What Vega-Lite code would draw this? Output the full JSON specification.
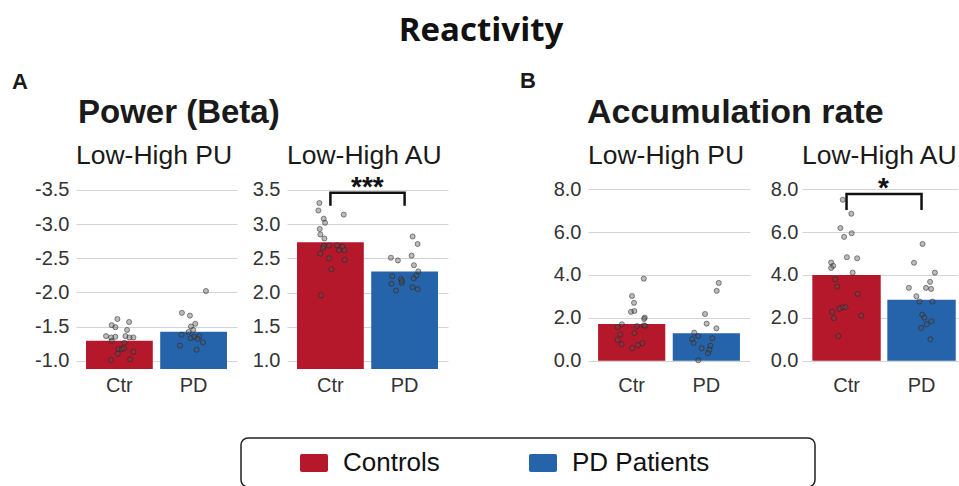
{
  "$schema": "https://vega.github.io/schema/vega-lite/v6.json",
  "padding": {"left": 12, "top": 14, "right": 0, "bottom": 0},
  "background": "white",
  "title": {"text": "Reactivity", "font": "Open Sans", "fontSize": 33, "fontWeight": "bold", "color": "#111", "anchor": "middle", "frame": "bounds", "offset": 22, "dx": -4},
  "datasets": {
    "bars": [
      {"p": "A_PU", "g": "Ctr", "v": -1.29}, {"p": "A_PU", "g": "PD", "v": -1.425},
      {"p": "A_AU", "g": "Ctr", "v": 2.735}, {"p": "A_AU", "g": "PD", "v": 2.31},
      {"p": "B_PU", "g": "Ctr", "v": 1.71}, {"p": "B_PU", "g": "PD", "v": 1.28},
      {"p": "B_AU", "g": "Ctr", "v": 4.0}, {"p": "B_AU", "g": "PD", "v": 2.84}
    ],
    "brackets": [
      {"p": "A_AU", "g": "Ctr", "v": 3.27, "o": 1}, {"p": "A_AU", "g": "Ctr", "v": 3.46, "o": 2},
      {"p": "A_AU", "g": "PD", "v": 3.46, "o": 3}, {"p": "A_AU", "g": "PD", "v": 3.27, "o": 4},
      {"p": "B_AU", "g": "Ctr", "v": 7.03, "o": 1}, {"p": "B_AU", "g": "Ctr", "v": 7.78, "o": 2},
      {"p": "B_AU", "g": "PD", "v": 7.78, "o": 3}, {"p": "B_AU", "g": "PD", "v": 7.03, "o": 4}
    ],
    "stars": [
      {"p": "A_AU", "g": "Ctr", "v": 3.46, "t": "***"},
      {"p": "B_AU", "g": "Ctr", "v": 7.78, "t": "*"}
    ],
    "pts": [
      {"p": "A_PU", "g": "Ctr", "v": -1.61, "j": -0.06}, {"p": "A_PU", "g": "Ctr", "v": -1.567, "j": 0.29},
      {"p": "A_PU", "g": "Ctr", "v": -1.52, "j": -0.23}, {"p": "A_PU", "g": "Ctr", "v": -1.49, "j": -0.12},
      {"p": "A_PU", "g": "Ctr", "v": -1.45, "j": 0.23}, {"p": "A_PU", "g": "Ctr", "v": -1.36, "j": -0.4},
      {"p": "A_PU", "g": "Ctr", "v": -1.34, "j": -0.25}, {"p": "A_PU", "g": "Ctr", "v": -1.35, "j": -0.12},
      {"p": "A_PU", "g": "Ctr", "v": -1.36, "j": 0.18}, {"p": "A_PU", "g": "Ctr", "v": -1.34, "j": 0.3},
      {"p": "A_PU", "g": "Ctr", "v": -1.34, "j": 0.42}, {"p": "A_PU", "g": "Ctr", "v": -1.29, "j": -0.23},
      {"p": "A_PU", "g": "Ctr", "v": -1.26, "j": 0.15}, {"p": "A_PU", "g": "Ctr", "v": -1.17, "j": -0.03},
      {"p": "A_PU", "g": "Ctr", "v": -1.17, "j": 0.07}, {"p": "A_PU", "g": "Ctr", "v": -1.18, "j": 0.14},
      {"p": "A_PU", "g": "Ctr", "v": -1.1, "j": -0.05}, {"p": "A_PU", "g": "Ctr", "v": -1.13, "j": 0.42},
      {"p": "A_PU", "g": "Ctr", "v": -1.01, "j": -0.25}, {"p": "A_PU", "g": "Ctr", "v": -1.02, "j": 0.32},
      {"p": "A_PU", "g": "PD", "v": -2.02, "j": 0.37}, {"p": "A_PU", "g": "PD", "v": -1.7, "j": -0.35},
      {"p": "A_PU", "g": "PD", "v": -1.66, "j": -0.11}, {"p": "A_PU", "g": "PD", "v": -1.54, "j": 0.05},
      {"p": "A_PU", "g": "PD", "v": -1.5, "j": -0.08}, {"p": "A_PU", "g": "PD", "v": -1.45, "j": -0.01},
      {"p": "A_PU", "g": "PD", "v": -1.42, "j": -0.15}, {"p": "A_PU", "g": "PD", "v": -1.38, "j": -0.36},
      {"p": "A_PU", "g": "PD", "v": -1.36, "j": 0.17}, {"p": "A_PU", "g": "PD", "v": -1.35, "j": 0.01},
      {"p": "A_PU", "g": "PD", "v": -1.33, "j": -0.09}, {"p": "A_PU", "g": "PD", "v": -1.32, "j": 0.12},
      {"p": "A_PU", "g": "PD", "v": -1.27, "j": 0.28}, {"p": "A_PU", "g": "PD", "v": -1.22, "j": -0.41},
      {"p": "A_PU", "g": "PD", "v": -1.16, "j": 0.09},
      {"p": "A_AU", "g": "Ctr", "v": 3.31, "j": -0.33}, {"p": "A_AU", "g": "Ctr", "v": 3.2, "j": -0.36},
      {"p": "A_AU", "g": "Ctr", "v": 3.14, "j": 0.4}, {"p": "A_AU", "g": "Ctr", "v": 3.08, "j": -0.2},
      {"p": "A_AU", "g": "Ctr", "v": 3.02, "j": -0.16}, {"p": "A_AU", "g": "Ctr", "v": 2.93, "j": -0.32},
      {"p": "A_AU", "g": "Ctr", "v": 2.85, "j": -0.3}, {"p": "A_AU", "g": "Ctr", "v": 2.79, "j": -0.18},
      {"p": "A_AU", "g": "Ctr", "v": 2.68, "j": -0.2}, {"p": "A_AU", "g": "Ctr", "v": 2.65, "j": -0.22},
      {"p": "A_AU", "g": "Ctr", "v": 2.69, "j": -0.04}, {"p": "A_AU", "g": "Ctr", "v": 2.69, "j": 0.2},
      {"p": "A_AU", "g": "Ctr", "v": 2.67, "j": 0.36}, {"p": "A_AU", "g": "Ctr", "v": 2.62, "j": 0.26},
      {"p": "A_AU", "g": "Ctr", "v": 2.62, "j": 0.42}, {"p": "A_AU", "g": "Ctr", "v": 2.57, "j": -0.3},
      {"p": "A_AU", "g": "Ctr", "v": 2.5, "j": -0.04}, {"p": "A_AU", "g": "Ctr", "v": 2.48, "j": 0.43},
      {"p": "A_AU", "g": "Ctr", "v": 2.34, "j": 0.03}, {"p": "A_AU", "g": "Ctr", "v": 1.96, "j": -0.28},
      {"p": "A_AU", "g": "PD", "v": 2.82, "j": 0.24}, {"p": "A_AU", "g": "PD", "v": 2.71, "j": 0.39},
      {"p": "A_AU", "g": "PD", "v": 2.51, "j": -0.41}, {"p": "A_AU", "g": "PD", "v": 2.47, "j": -0.2},
      {"p": "A_AU", "g": "PD", "v": 2.54, "j": 0.21}, {"p": "A_AU", "g": "PD", "v": 2.4, "j": 0.28},
      {"p": "A_AU", "g": "PD", "v": 2.31, "j": 0.41}, {"p": "A_AU", "g": "PD", "v": 2.25, "j": 0.35},
      {"p": "A_AU", "g": "PD", "v": 2.24, "j": -0.37}, {"p": "A_AU", "g": "PD", "v": 2.2, "j": -0.11},
      {"p": "A_AU", "g": "PD", "v": 2.21, "j": 0.27}, {"p": "A_AU", "g": "PD", "v": 2.14, "j": -0.09},
      {"p": "A_AU", "g": "PD", "v": 2.13, "j": -0.39}, {"p": "A_AU", "g": "PD", "v": 2.17, "j": -0.08},
      {"p": "A_AU", "g": "PD", "v": 2.08, "j": 0.24}, {"p": "A_AU", "g": "PD", "v": 2.05, "j": 0.39},
      {"p": "A_AU", "g": "PD", "v": 2.03, "j": -0.26},
      {"p": "B_PU", "g": "Ctr", "v": 3.83, "j": 0.36}, {"p": "B_PU", "g": "Ctr", "v": 3.02, "j": 0.01},
      {"p": "B_PU", "g": "Ctr", "v": 2.7, "j": 0.07}, {"p": "B_PU", "g": "Ctr", "v": 2.28, "j": -0.02},
      {"p": "B_PU", "g": "Ctr", "v": 2.32, "j": 0.08}, {"p": "B_PU", "g": "Ctr", "v": 2.01, "j": 0.39},
      {"p": "B_PU", "g": "Ctr", "v": 1.95, "j": 0.37}, {"p": "B_PU", "g": "Ctr", "v": 1.7, "j": -0.29},
      {"p": "B_PU", "g": "Ctr", "v": 1.57, "j": -0.42}, {"p": "B_PU", "g": "Ctr", "v": 1.62, "j": 0.16},
      {"p": "B_PU", "g": "Ctr", "v": 1.65, "j": 0.36}, {"p": "B_PU", "g": "Ctr", "v": 1.63, "j": 0.4},
      {"p": "B_PU", "g": "Ctr", "v": 1.23, "j": -0.34}, {"p": "B_PU", "g": "Ctr", "v": 1.29, "j": 0.08},
      {"p": "B_PU", "g": "Ctr", "v": 0.97, "j": -0.42}, {"p": "B_PU", "g": "Ctr", "v": 0.77, "j": -0.3},
      {"p": "B_PU", "g": "Ctr", "v": 0.81, "j": 0.32}, {"p": "B_PU", "g": "Ctr", "v": 0.73, "j": 0.19},
      {"p": "B_PU", "g": "Ctr", "v": 0.58, "j": 0.01},
      {"p": "B_PU", "g": "PD", "v": 3.63, "j": 0.37}, {"p": "B_PU", "g": "PD", "v": 3.26, "j": 0.31},
      {"p": "B_PU", "g": "PD", "v": 2.18, "j": -0.04}, {"p": "B_PU", "g": "PD", "v": 1.73, "j": 0.01},
      {"p": "B_PU", "g": "PD", "v": 1.51, "j": 0.3}, {"p": "B_PU", "g": "PD", "v": 1.31, "j": -0.36},
      {"p": "B_PU", "g": "PD", "v": 1.15, "j": -0.24}, {"p": "B_PU", "g": "PD", "v": 1.01, "j": -0.42},
      {"p": "B_PU", "g": "PD", "v": 1.05, "j": 0.18}, {"p": "B_PU", "g": "PD", "v": 0.83, "j": -0.38},
      {"p": "B_PU", "g": "PD", "v": 0.7, "j": 0.12}, {"p": "B_PU", "g": "PD", "v": 0.51, "j": 0.09},
      {"p": "B_PU", "g": "PD", "v": 0.58, "j": -0.14}, {"p": "B_PU", "g": "PD", "v": 0.35, "j": 0.05},
      {"p": "B_PU", "g": "PD", "v": 0.02, "j": -0.24},
      {"p": "B_AU", "g": "Ctr", "v": 7.51, "j": -0.11}, {"p": "B_AU", "g": "Ctr", "v": 6.86, "j": 0.14},
      {"p": "B_AU", "g": "Ctr", "v": 6.19, "j": -0.18}, {"p": "B_AU", "g": "Ctr", "v": 5.95, "j": 0.15},
      {"p": "B_AU", "g": "Ctr", "v": 5.78, "j": -0.07}, {"p": "B_AU", "g": "Ctr", "v": 4.83, "j": 0.01},
      {"p": "B_AU", "g": "Ctr", "v": 4.78, "j": 0.31}, {"p": "B_AU", "g": "Ctr", "v": 4.58, "j": -0.45},
      {"p": "B_AU", "g": "Ctr", "v": 4.43, "j": -0.39}, {"p": "B_AU", "g": "Ctr", "v": 4.33, "j": -0.45},
      {"p": "B_AU", "g": "Ctr", "v": 4.11, "j": 0.18}, {"p": "B_AU", "g": "Ctr", "v": 3.8, "j": -0.33},
      {"p": "B_AU", "g": "Ctr", "v": 3.46, "j": -0.27}, {"p": "B_AU", "g": "Ctr", "v": 3.12, "j": 0.33},
      {"p": "B_AU", "g": "Ctr", "v": 2.49, "j": -0.12}, {"p": "B_AU", "g": "Ctr", "v": 2.5, "j": -0.03},
      {"p": "B_AU", "g": "Ctr", "v": 2.43, "j": -0.21}, {"p": "B_AU", "g": "Ctr", "v": 2.28, "j": -0.42},
      {"p": "B_AU", "g": "Ctr", "v": 2.1, "j": 0.43}, {"p": "B_AU", "g": "Ctr", "v": 1.99, "j": -0.37},
      {"p": "B_AU", "g": "Ctr", "v": 1.15, "j": -0.24},
      {"p": "B_AU", "g": "PD", "v": 5.45, "j": 0.03}, {"p": "B_AU", "g": "PD", "v": 4.57, "j": -0.22},
      {"p": "B_AU", "g": "PD", "v": 4.11, "j": 0.39}, {"p": "B_AU", "g": "PD", "v": 3.68, "j": 0.25},
      {"p": "B_AU", "g": "PD", "v": 3.4, "j": -0.37}, {"p": "B_AU", "g": "PD", "v": 3.4, "j": 0.13},
      {"p": "B_AU", "g": "PD", "v": 3.35, "j": 0.28}, {"p": "B_AU", "g": "PD", "v": 3.01, "j": -0.15},
      {"p": "B_AU", "g": "PD", "v": 2.76, "j": -0.06}, {"p": "B_AU", "g": "PD", "v": 2.76, "j": 0.32},
      {"p": "B_AU", "g": "PD", "v": 2.15, "j": 0.02}, {"p": "B_AU", "g": "PD", "v": 2.01, "j": 0.08},
      {"p": "B_AU", "g": "PD", "v": 1.84, "j": 0.29}, {"p": "B_AU", "g": "PD", "v": 1.7, "j": 0.15},
      {"p": "B_AU", "g": "PD", "v": 1.53, "j": -0.01}, {"p": "B_AU", "g": "PD", "v": 1.0, "j": 0.26}
    ]
  },
  "spacing": 72,
  "hconcat": [
    {
      "title": {"text": "A", "anchor": "start", "dx": -64, "fontSize": 22, "fontWeight": "bold", "offset": 3},
      "hconcat": [
        {
          "title": {"text": "Power (Beta)", "anchor": "start", "dx": 2, "fontSize": 33, "fontWeight": "bold", "offset": 13},
          "spacing": 15,
          "hconcat": [
            {
              "width": 161, "height": 199,
              "title": {"text": "Low-High PU"},
              "resolve": {"scale": {"xOffset": "independent"}},
              "encoding": {
                "x": {"field": "g", "type": "nominal", "sort": ["Ctr", "PD"], "title": null, "scale": {"paddingInner": 0.1, "paddingOuter": 0.135}},
                "y": {"field": "v", "type": "quantitative", "title": null, "scale": {"domain": [-3.792, -0.878], "reverse": true, "nice": false, "zero": false},
                      "axis": {"values": [-3.5, -3, -2.5, -2, -1.5, -1], "labelExpr": "(datum.value < 0 ? '-' : '') + format(abs(datum.value), '.1f')"}}
              },
              "layer": [
                {
                  "data": {"name": "bars"}, "transform": [{"filter": "datum.p === 'A_PU'"}],
                  "mark": {"type": "bar"},
                  "encoding": {
                    "y2": {"datum": -0.878},
                    "color": {"field": "g", "type": "nominal", "scale": {"domain": ["Ctr", "PD"], "range": ["#b5172b", "#2563aa"]},
                              "legend": {"orient": "none", "legendX": 165, "legendY": 268, "direction": "horizontal", "columns": 2, "title": " ",
                                         "labelExpr": "datum.label === 'Ctr' ? 'Controls' : 'PD Patients'"}}
                  }
                },
                {
                  "data": {"name": "pts"}, "transform": [{"filter": "datum.p === 'A_PU'"}],
                  "mark": {"type": "point", "filled": true, "fill": "#555", "fillOpacity": 0.4, "stroke": "#222", "strokeOpacity": 0.5, "strokeWidth": 1, "size": 26},
                  "encoding": {"xOffset": {"field": "j", "type": "quantitative", "scale": {"domain": [-1, 1]}}}
                }
              ]
            },
            {
              "width": 161, "height": 199,
              "title": {"text": "Low-High AU"},
              "resolve": {"scale": {"xOffset": "independent"}},
              "encoding": {
                "x": {"field": "g", "type": "nominal", "sort": ["Ctr", "PD"], "title": null, "scale": {"paddingInner": 0.1, "paddingOuter": 0.135}},
                "y": {"field": "v", "type": "quantitative", "title": null, "scale": {"domain": [0.883, 3.792], "nice": false, "zero": false},
                      "axis": {"values": [1, 1.5, 2, 2.5, 3, 3.5], "format": ".1f"}}
              },
              "layer": [
                {
                  "data": {"name": "bars"}, "transform": [{"filter": "datum.p === 'A_AU'"}],
                  "mark": {"type": "bar"},
                  "encoding": {
                    "y2": {"datum": 0.883},
                    "color": {"field": "g", "type": "nominal", "scale": {"domain": ["Ctr", "PD"], "range": ["#b5172b", "#2563aa"]},
                              "legend": {"orient": "none", "legendX": 165, "legendY": 268, "direction": "horizontal", "columns": 2, "title": " ",
                                         "labelExpr": "datum.label === 'Ctr' ? 'Controls' : 'PD Patients'"}}
                  }
                },
                {
                  "data": {"name": "pts"}, "transform": [{"filter": "datum.p === 'A_AU'"}],
                  "mark": {"type": "point", "filled": true, "fill": "#555", "fillOpacity": 0.4, "stroke": "#222", "strokeOpacity": 0.5, "strokeWidth": 1, "size": 26},
                  "encoding": {"xOffset": {"field": "j", "type": "quantitative", "scale": {"domain": [-1, 1]}}}
                },
                {
                  "data": {"name": "brackets"}, "transform": [{"filter": "datum.p === 'A_AU'"}],
                  "mark": {"type": "line", "color": "#111", "strokeWidth": 2.5},
                  "encoding": {"order": {"field": "o"}}
                },
                {
                  "data": {"name": "stars"}, "transform": [{"filter": "datum.p === 'A_AU'"}],
                  "mark": {"type": "text", "dx": 37, "dy": 3, "baseline": "alphabetic", "fontSize": 28, "fontWeight": "bold", "color": "#111"},
                  "encoding": {"text": {"field": "t"}}
                }
              ]
            }
          ]
        }
      ]
    },
    {
      "title": {"text": "B", "anchor": "start", "dx": -68, "fontSize": 22, "fontWeight": "bold", "offset": 3},
      "hconcat": [
        {
          "title": {"text": "Accumulation rate", "anchor": "start", "dx": -1, "fontSize": 34, "fontWeight": "bold", "offset": 13},
          "spacing": 20,
          "hconcat": [
            {
              "width": 162, "height": 199,
              "title": {"text": "Low-High PU"},
              "resolve": {"scale": {"xOffset": "independent"}},
              "encoding": {
                "x": {"field": "g", "type": "nominal", "sort": ["Ctr", "PD"], "title": null, "scale": {"paddingInner": 0.1, "paddingOuter": 0.135}},
                "y": {"field": "v", "type": "quantitative", "title": null, "scale": {"domain": [-0.387, 8.9], "nice": false, "zero": false},
                      "axis": {"values": [0, 2, 4, 6, 8], "format": ".1f"}}
              },
              "layer": [
                {
                  "data": {"name": "bars"}, "transform": [{"filter": "datum.p === 'B_PU'"}],
                  "mark": {"type": "bar"},
                  "encoding": {
                    "y2": {"datum": 0},
                    "color": {"field": "g", "type": "nominal", "scale": {"domain": ["Ctr", "PD"], "range": ["#b5172b", "#2563aa"]},
                              "legend": {"orient": "none", "legendX": 165, "legendY": 268, "direction": "horizontal", "columns": 2, "title": " ",
                                         "labelExpr": "datum.label === 'Ctr' ? 'Controls' : 'PD Patients'"}}
                  }
                },
                {
                  "data": {"name": "pts"}, "transform": [{"filter": "datum.p === 'B_PU'"}],
                  "mark": {"type": "point", "filled": true, "fill": "#555", "fillOpacity": 0.4, "stroke": "#222", "strokeOpacity": 0.5, "strokeWidth": 1, "size": 26},
                  "encoding": {"xOffset": {"field": "j", "type": "quantitative", "scale": {"domain": [-1, 1]}}}
                }
              ]
            },
            {
              "width": 156, "height": 199,
              "title": {"text": "Low-High AU"},
              "resolve": {"scale": {"xOffset": "independent"}},
              "encoding": {
                "x": {"field": "g", "type": "nominal", "sort": ["Ctr", "PD"], "title": null, "scale": {"paddingInner": 0.088, "paddingOuter": 0.084, "align": 0.82}},
                "y": {"field": "v", "type": "quantitative", "title": null, "scale": {"domain": [-0.387, 8.9], "nice": false, "zero": false},
                      "axis": {"values": [0, 2, 4, 6, 8], "format": ".1f", "labelPadding": 4}}
              },
              "layer": [
                {
                  "data": {"name": "bars"}, "transform": [{"filter": "datum.p === 'B_AU'"}],
                  "mark": {"type": "bar"},
                  "encoding": {
                    "y2": {"datum": 0},
                    "color": {"field": "g", "type": "nominal", "scale": {"domain": ["Ctr", "PD"], "range": ["#b5172b", "#2563aa"]},
                              "legend": {"orient": "none", "legendX": 165, "legendY": 268, "direction": "horizontal", "columns": 2, "title": " ",
                                         "labelExpr": "datum.label === 'Ctr' ? 'Controls' : 'PD Patients'"}}
                  }
                },
                {
                  "data": {"name": "pts"}, "transform": [{"filter": "datum.p === 'B_AU'"}],
                  "mark": {"type": "point", "filled": true, "fill": "#555", "fillOpacity": 0.4, "stroke": "#222", "strokeOpacity": 0.5, "strokeWidth": 1, "size": 26},
                  "encoding": {"xOffset": {"field": "j", "type": "quantitative", "scale": {"domain": [-1, 1]}}}
                },
                {
                  "data": {"name": "brackets"}, "transform": [{"filter": "datum.p === 'B_AU'"}],
                  "mark": {"type": "line", "color": "#111", "strokeWidth": 2.5},
                  "encoding": {"order": {"field": "o"}}
                },
                {
                  "data": {"name": "stars"}, "transform": [{"filter": "datum.p === 'B_AU'"}],
                  "mark": {"type": "text", "dx": 37, "dy": 3, "baseline": "alphabetic", "fontSize": 28, "fontWeight": "bold", "color": "#111"},
                  "encoding": {"text": {"field": "t"}}
                }
              ]
            }
          ]
        }
      ]
    }
  ],
  "config": {
    "view": {"stroke": null},
    "font": "Liberation Sans",
    "title": {"font": "Liberation Sans", "fontSize": 26.5, "fontWeight": "normal", "color": "#1a1a1a", "anchor": "start", "frame": "group", "offset": 1},
    "axis": {"labelFont": "Liberation Sans", "labelFontSize": 20, "labelColor": "#333", "domain": false, "ticks": false, "gridColor": "#d4d4d4", "gridWidth": 1.2, "labelOverlap": false},
    "axisX": {"labelAngle": 0, "labelPadding": 6, "grid": false},
    "axisY": {"labelPadding": 7, "grid": true},
    "legend": {"labelFont": "Liberation Sans", "labelFontSize": 26, "labelColor": "#111", "labelOffset": 15, "symbolSize": 784,
               "symbolType": "M-0.86,-0.643H0.86Q1,-0.643 1,-0.5V0.5Q1,0.643 0.86,0.643H-0.86Q-1,0.643 -1,0.5V-0.5Q-1,-0.643 -0.86,-0.643Z",
               "symbolStrokeWidth": 0, "symbolOpacity": 1, "columnPadding": 0, "gridAlign": "all",
               "titleOrient": "right", "titleFontSize": 1, "titlePadding": 95,
               "padding": 11, "strokeColor": "#222", "strokeWidth": 1.5, "cornerRadius": 7, "symbolOffset": 48}
  }
}
